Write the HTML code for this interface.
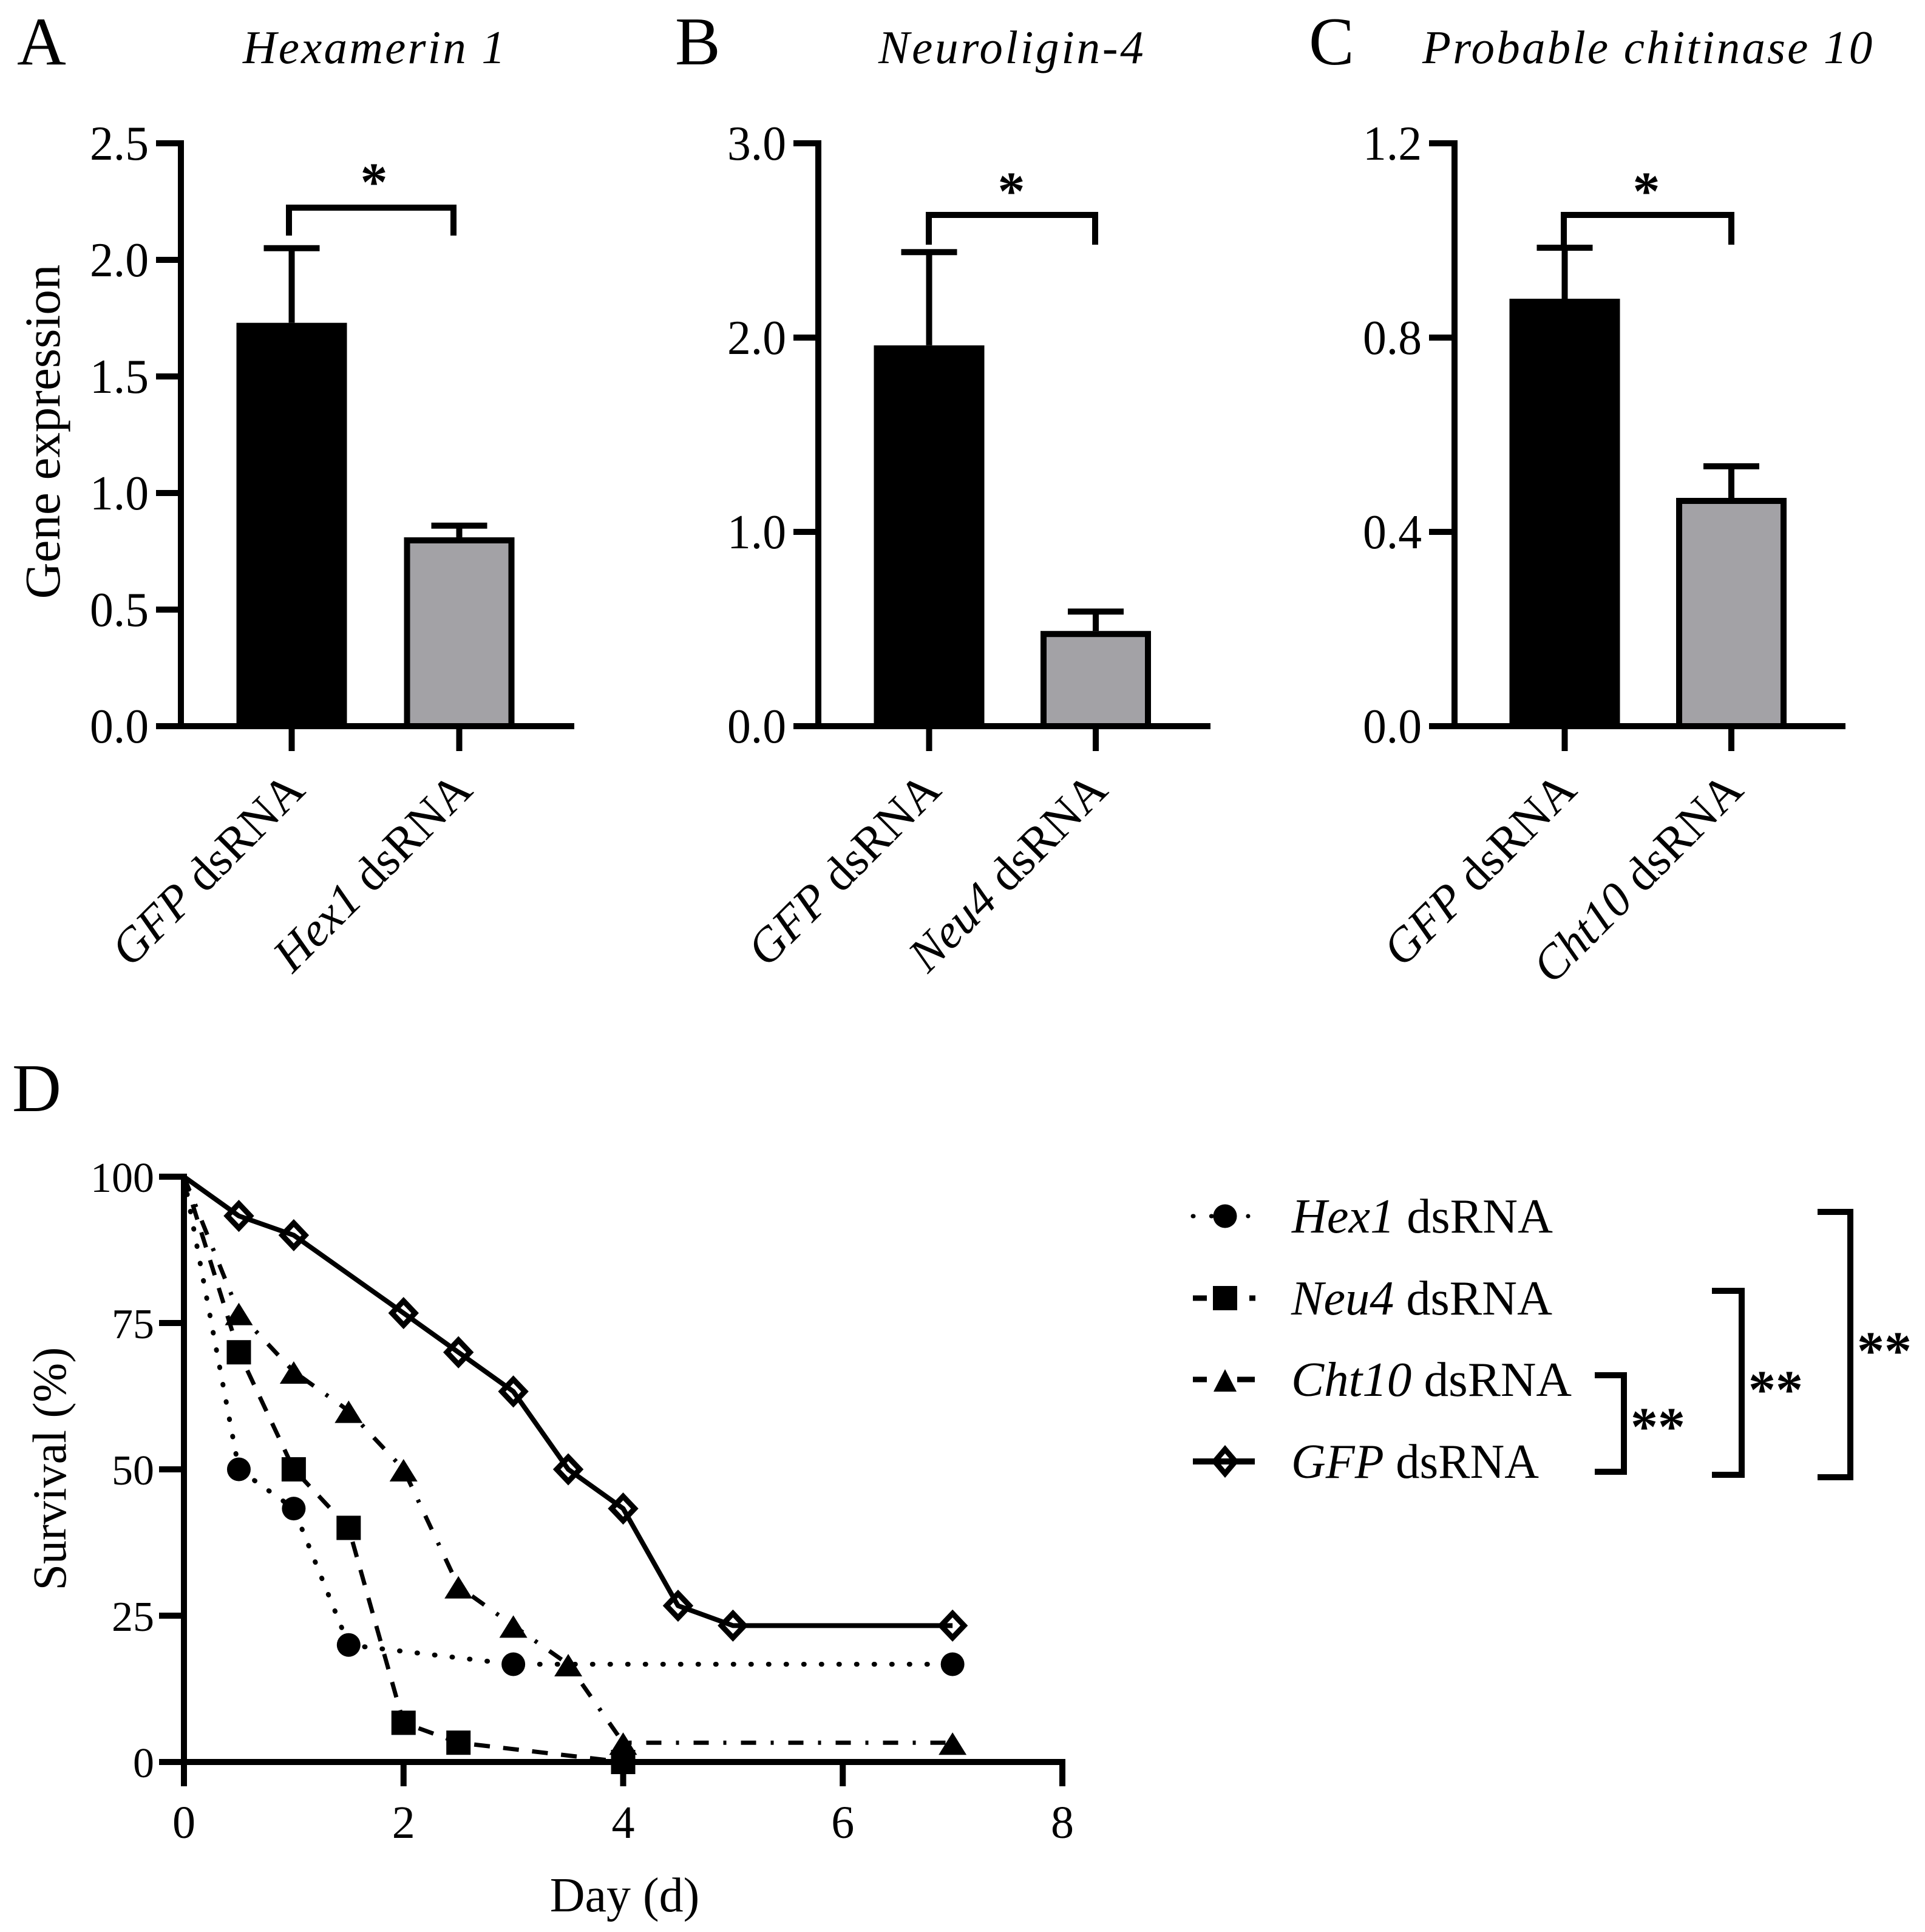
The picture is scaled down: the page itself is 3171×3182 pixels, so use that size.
<!DOCTYPE html>
<html lang="en">
<head>
<meta charset="utf-8">
<title>Gene expression and survival after dsRNA treatment</title>
<style>
html,body{margin:0;padding:0;background:#fff;}
svg{display:block;}
text{font-family:"Liberation Serif",serif;fill:#000;}
</style>
</head>
<body>
<svg id="figure" xmlns="http://www.w3.org/2000/svg" width="3171" height="3182" viewBox="0 0 3171 3182"></svg>
<script>
// ---------- Panel A data ----------
const genesA = ['GFP', 'Hex1'];
const meansA = [1.73, 0.81];
const upperA = [2.05, 0.86];
const ticksA = [0, 0.5, 1, 1.5, 2, 2.5];
const tickLabelsA = ['0.0', '0.5', '1.0', '1.5', '2.0', '2.5'];
// ---------- Panel B data ----------
const genesB = ['GFP', 'Neu4'];
const meansB = [1.96, 0.49];
const upperB = [2.44, 0.59];
const ticksB = [0, 1, 2, 3];
const tickLabelsB = ['0.0', '1.0', '2.0', '3.0'];
// ---------- Panel C data ----------
const genesC = ['GFP', 'Cht10'];
const meansC = [0.88, 0.47];
const upperC = [0.985, 0.535];
const ticksC = [0, 0.4, 0.8, 1.2];
const tickLabelsC = ['0.0', '0.4', '0.8', '1.2'];
// ---------- Panel D data ----------
const hex1Days = [0, 0.5, 1, 1.5, 3, 7];
const hex1Survival = [100, 50, 43.3, 20, 16.7, 16.7];
const neu4Days = [0, 0.5, 1, 1.5, 2, 2.5, 4];
const neu4Survival = [100, 70, 50, 40, 6.7, 3.3, 0];
const cht10Days = [0, 0.5, 1, 1.5, 2, 2.5, 3, 3.5, 4, 7];
const cht10Survival = [100, 76.7, 66.7, 60, 50, 30, 23.3, 16.7, 3.3, 3.3];
const gfpDays = [0, 0.5, 1, 2, 2.5, 3, 3.5, 4, 4.5, 5, 7];
const gfpSurvival = [100, 93.3, 90, 76.7, 70, 63.3, 50, 43.3, 26.7, 23.3, 23.3];
const survivalTicks = [0, 25, 50, 75, 100];
const dayTicks = [0, 2, 4, 6, 8];

const svg = document.getElementById('figure');
const NS = 'http://www.w3.org/2000/svg';
function make(tag, attrs, parent, txt) {
  const e = document.createElementNS(NS, tag);
  for (const k in attrs) e.setAttribute(k, attrs[k]);
  if (txt !== undefined) e.textContent = txt;
  (parent || svg).appendChild(e);
  return e;
}
function named(e, name, inter) {
  
  
  return e;
}
function lineEl(x1, y1, x2, y2, w, parent) {
  return make('line', {x1, y1, x2, y2, stroke: '#000', 'stroke-width': w}, parent);
}

const AXW = 10;
const panels = [
  {id: 'a', letter: 'A', letterX: 28, title: 'Hexamerin 1', titleX: 400, titleLS: 3.2, genes: genesA, means: meansA, upper: upperA, ticks: ticksA, tickLabels: tickLabelsA, max: 2.5,
   ax: 298, left: 257, right: 946, cats: [480.5, 756.5], lblOff: 25, brX: [476, 747], brY: 342, brEnd: 388, star: [616, 330]},
  {id: 'b', letter: 'B', letterX: 1112, title: 'Neuroligin-4', titleX: 1447, titleLS: 3.8, genes: genesB, means: meansB, upper: upperB, ticks: ticksB, tickLabels: tickLabelsB, max: 3,
   ax: 1348, left: 1307, right: 1994, cats: [1530.5, 1805], lblOff: 23, brX: [1530, 1804], brY: 354, brEnd: 403, star: [1666, 345]},
  {id: 'c', letter: 'C', letterX: 2156, title: 'Probable chitinase 10', titleX: 2343, titleLS: 3.2, genes: genesC, means: meansC, upper: upperC, ticks: ticksC, tickLabels: tickLabelsC, max: 1.2,
   ax: 2396, left: 2354, right: 3040, cats: [2577.5, 2852], lblOff: 23, brX: [2576, 2852], brY: 354, brEnd: 403, star: [2712, 345]}
];
const Y0 = 1196, YT = 236, BARHALF = 91, CAPHALF = 46;

panels.forEach(function (p) {
  const g = make('g', {});
  named(g, 'panel-' + p.id, false);
  const y = function (v) { return Y0 - (v / p.max) * (Y0 - YT); };

  const letter = make('text', {x: p.letterX, y: 106, 'font-size': 112}, g, p.letter);
  named(letter, 'panel-label-' + p.id, false);

  const title = make('text', {x: p.titleX, y: 104, 'font-size': 77, 'font-style': 'italic', 'letter-spacing': p.titleLS}, g, p.title);
  named(title, 'panel-title-' + p.id, false);

  p.means.forEach(function (m, i) {
    const cx = p.cats[i];
    const stem = lineEl(cx, y(m), cx, y(p.upper[i]), AXW, g);
    named(stem, 'error-bar-' + p.id + '-' + i, false);
    const cap = lineEl(cx - CAPHALF, y(p.upper[i]), cx + CAPHALF, y(p.upper[i]), AXW, g);
    named(cap, 'error-cap-' + p.id + '-' + i, false);
    const bar = i === 0
      ? make('rect', {x: cx - BARHALF, y: y(m), width: BARHALF * 2, height: Y0 - y(m), fill: '#000'}, g)
      : make('rect', {x: cx - BARHALF + 5, y: y(m) + 5, width: BARHALF * 2 - 10, height: Y0 - y(m) - 5, fill: '#a3a2a6', stroke: '#000', 'stroke-width': 10}, g);
    named(bar, 'bar-' + p.id + '-' + p.genes[i].toLowerCase(), false);
    const tk = lineEl(cx, Y0, cx, 1237, AXW, g);
    named(tk, 'x-tick-' + p.id + '-' + i, false);
    const lab = make('text', {
      'font-size': 79, 'text-anchor': 'end',
      transform: 'translate(' + (cx + p.lblOff) + ',1305) rotate(-45)'
    }, g);
    named(lab, 'x-label-' + p.id + '-' + i, false);
    make('tspan', {'font-style': 'italic'}, lab, p.genes[i]);
    make('tspan', {}, lab, ' dsRNA');
  });

  const yAxis = lineEl(p.ax, YT - 5, p.ax, Y0 + 5, AXW, g);
  named(yAxis, 'y-axis-' + p.id, false);
  const xAxis = lineEl(p.left, Y0, p.right, Y0, AXW, g);
  named(xAxis, 'x-axis-' + p.id, false);

  p.ticks.forEach(function (t, i) {
    const tk = lineEl(p.left, y(t), p.ax, y(t), AXW, g);
    named(tk, 'y-tick-' + p.id + '-' + i, false);
    const lb = make('text', {x: p.left - 12, y: y(t) + 27, 'font-size': 80, 'text-anchor': 'end', textLength: 97, lengthAdjust: 'spacingAndGlyphs'}, g, p.tickLabels[i]);
    named(lb, 'y-tick-label-' + p.id + '-' + i, false);
  });

  const br = make('path', {d: 'M' + p.brX[0] + ' ' + p.brEnd + 'V' + p.brY + 'H' + p.brX[1] + 'V' + p.brEnd, fill: 'none', stroke: '#000', 'stroke-width': AXW}, g);
  named(br, 'significance-bracket-' + p.id, false);
  const st = make('text', {x: p.star[0], y: p.star[1], 'font-size': 90, 'font-weight': 'bold', 'text-anchor': 'middle'}, g, '*');
  named(st, 'significance-star-' + p.id, false);
});

const yTitle = make('text', {'font-size': 83, 'text-anchor': 'middle', transform: 'translate(98,711) rotate(-90)'}, svg, 'Gene expression');
named(yTitle, 'y-axis-title-gene-expression', false);

// ---------- Panel D ----------
const gd = make('g', {});
named(gd, 'panel-d', false);
const D = {x0: 303, x8: 1750, y0: 2902, y100: 1938};
function sx(v) { return D.x0 + v / 8 * (D.x8 - D.x0); }
function sy(v) { return D.y0 - v / 100 * (D.y0 - D.y100); }

const letterD = make('text', {x: 20, y: 1830, 'font-size': 112}, gd, 'D');
named(letterD, 'panel-label-d', false);

function marker(kind, x, y, parent, legend) {
  if (kind === 'circle') return make('circle', {cx: x, cy: y, r: 19.5, fill: '#000'}, parent);
  if (kind === 'square') return make('rect', {x: x - 20, y: y - 20, width: 40, height: 40, fill: '#000'}, parent);
  if (kind === 'triangle') {
    const hw = legend ? 19 : 23;
    return make('path', {d: 'M' + x + ' ' + (y - 17) + 'L' + (x + hw) + ' ' + (y + 20) + 'H' + (x - hw) + 'Z', fill: '#000'}, parent);
  }
  const dx = legend ? 17 : 19;
  const dy = 20;
  return make('path', {d: 'M' + x + ' ' + (y - dy) + 'L' + (x + dx) + ' ' + y + 'L' + x + ' ' + (y + dy) + 'L' + (x - dx) + ' ' + y + 'Z', fill: 'none', stroke: '#000', 'stroke-width': 9}, parent);
}

const seriesD = [
  {key: 'hex1', gene: 'Hex1', days: hex1Days, vals: hex1Survival, kind: 'circle', dash: '1 28', cap: 'round', w: 8, ly: 2003, lDash: '1 29.3', lw: 7, lx1: 1965, lx2: 2056, tx: 2128, tw: 430},
  {key: 'neu4', gene: 'Neu4', days: neu4Days, vals: neu4Survival, kind: 'square', dash: '26 22', cap: 'butt', w: 7, ly: 2138, lDash: '23 70 10 100', lw: 9, lx1: 1965, lx2: 2068, tx: 2127, tw: 430},
  {key: 'cht10', gene: 'Cht10', days: cht10Days, vals: cht10Survival, kind: 'triangle', dash: '25 24 5 24', cap: 'butt', w: 7, ly: 2272, lDash: '23 50 29 100', lw: 9, lx1: 1965, lx2: 2067, tx: 2127, tw: 462},
  {key: 'gfp', gene: 'GFP', days: gfpDays, vals: gfpSurvival, kind: 'diamond', dash: 'none', cap: 'butt', w: 8, ly: 2407, lDash: 'none', lw: 10, lx1: 1965, lx2: 2067, tx: 2127, tw: 408}
];

seriesD.forEach(function (s) {
  const g = make('g', {}, gd);
  named(g, 'series-' + s.key, false);
  const pts = s.days.map(function (d, i) { return sx(d) + ',' + sy(s.vals[i]); }).join(' ');
  const pl = make('polyline', {points: pts, fill: 'none', stroke: '#000', 'stroke-width': s.w, 'stroke-dasharray': s.dash, 'stroke-linecap': s.cap, 'stroke-linejoin': 'round'}, g);
  named(pl, 'survival-line-' + s.key, false);
  s.days.forEach(function (d, i) {
    if (d === 0) return;
    const m = marker(s.kind, sx(d), sy(s.vals[i]), g, false);
    named(m, 'point-' + s.key + '-' + i, false);
  });
});

const yAxisD = lineEl(D.x0, D.y100 - 5, D.x0, D.y0 + 5, AXW, gd);
named(yAxisD, 'y-axis-d', false);
const xAxisD = lineEl(262, D.y0, D.x8 + 5, D.y0, AXW, gd);
named(xAxisD, 'x-axis-d', false);

survivalTicks.forEach(function (t, i) {
  const tk = lineEl(262, sy(t), D.x0, sy(t), AXW, gd);
  named(tk, 'y-tick-d-' + i, false);
  const lb = make('text', {x: 254, y: sy(t) + 25, 'font-size': 70, 'text-anchor': 'end'}, gd, String(t));
  named(lb, 'y-tick-label-d-' + i, false);
});
dayTicks.forEach(function (t, i) {
  const tk = lineEl(sx(t), D.y0, sx(t), 2942, AXW, gd);
  named(tk, 'x-tick-d-' + i, false);
  const lb = make('text', {x: sx(t), y: 3027, 'font-size': 76, 'text-anchor': 'middle'}, gd, String(t));
  named(lb, 'x-tick-label-d-' + i, false);
});

const yTitleD = make('text', {'font-size': 78, 'text-anchor': 'middle', transform: 'translate(108,2419) rotate(-90)'}, gd, 'Survival (%)');
named(yTitleD, 'y-axis-title-survival', false);
const xTitleD = make('text', {x: 1029, y: 3148, 'font-size': 80, 'text-anchor': 'middle'}, gd, 'Day (d)');
named(xTitleD, 'x-axis-title-day', false);

// ---------- Legend ----------
const lg = make('g', {}, gd);
named(lg, 'legend', false);
seriesD.forEach(function (s) {
  const g = make('g', {}, lg);
  named(g, 'legend-entry-' + s.key, true);
  const ln = make('line', {x1: s.lx1, y1: s.ly, x2: s.lx2, y2: s.ly, stroke: '#000', 'stroke-width': s.lw, 'stroke-dasharray': s.lDash, 'stroke-linecap': s.cap}, g);
  named(ln, 'legend-line-' + s.key, false);
  const m = marker(s.kind, 2018, s.ly, g, true);
  named(m, 'legend-marker-' + s.key, false);
  const tx = make('text', {x: s.tx, y: s.ly + 27, 'font-size': 80, textLength: s.tw, lengthAdjust: 'spacingAndGlyphs'}, g);
  named(tx, 'legend-label-' + s.key, false);
  make('tspan', {'font-style': 'italic'}, tx, s.gene);
  make('tspan', {}, tx, ' dsRNA');
});

const sigBrackets = [
  {x1: 2627, x2: 2675, y1: 2265, y2: 2424, sx: 2731, sy: 2380, n: 1},
  {x1: 2820, x2: 2869, y1: 2126, y2: 2429, sx: 2925, sy: 2319, n: 2},
  {x1: 2994, x2: 3048, y1: 1996, y2: 2433, sx: 3104, sy: 2255, n: 3}
];
sigBrackets.forEach(function (b) {
  const p = make('path', {d: 'M' + b.x1 + ' ' + b.y1 + 'H' + b.x2 + 'V' + b.y2 + 'H' + b.x1, fill: 'none', stroke: '#000', 'stroke-width': AXW}, gd);
  named(p, 'legend-bracket-' + b.n, false);
  const t = make('text', {x: b.sx, y: b.sy, 'font-size': 90, 'font-weight': 'bold', 'text-anchor': 'middle'}, gd, '**');
  named(t, 'legend-stars-' + b.n, false);
});
</script>
</body>
</html>
